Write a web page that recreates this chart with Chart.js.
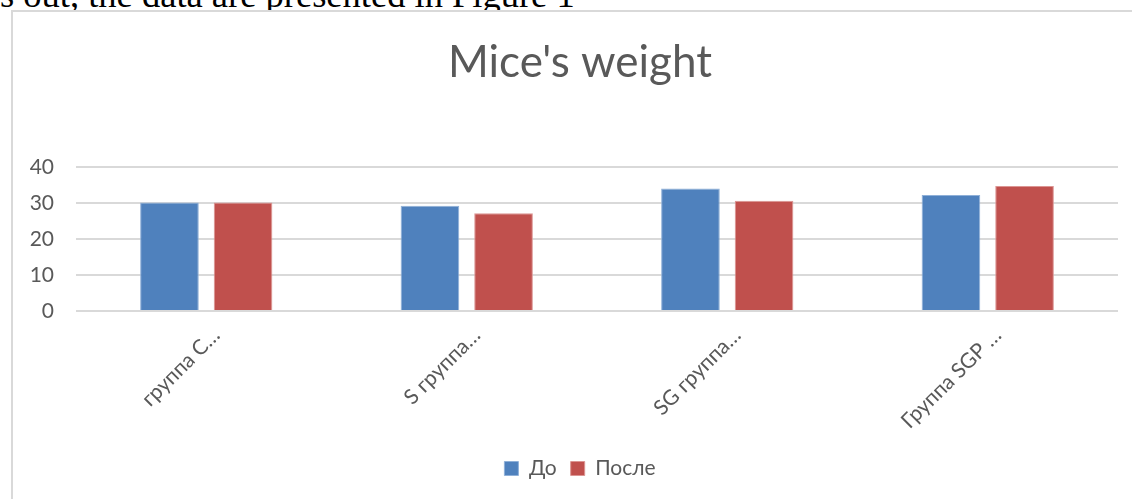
<!DOCTYPE html>
<html>
<head>
<meta charset="utf-8">
<script src="https://cdn.jsdelivr.net/npm/chart.js@4.4.1/dist/chart.umd.min.js"></script>
<style>
  html, body { margin: 0; padding: 0; background: #ffffff; overflow: hidden; width: 1132px; height: 499px; }
  #lead {
    position: absolute; left: 0px; top: -23px;
    font-family: "Liberation Serif", "Times New Roman", serif;
    font-size: 36.5px; color: #000; white-space: nowrap; line-height: 36px;
  }
  #frame {
    position: absolute; left: 11px; top: 10px; width: 1160px; height: 520px;
    border: 2px solid #d9d9d9; box-sizing: border-box; background: #fff;
  }
  #chart { position: absolute; left: 13px; top: 12px; }
</style>
</head>
<body>
<div id="lead">s out, the data are presented in Figure 1</div>
<div id="frame"></div>
<canvas id="chart" width="1134" height="487"></canvas>
<script>
// Mouse body weight per group, before and after
const categories = ['группа C…', 'S группа…', 'SG группа…', 'Группа SGP …'];
const seriesNames = ['До', 'После'];
const before = [30.1, 29.2, 34.0, 32.2];
const after = [30.1, 27.1, 30.6, 34.7];
const yTicks = [0, 10, 20, 30, 40];

const TEXT = '#595959';
const FONT = 'Lato, "Open Sans", sans-serif';

new Chart(document.getElementById('chart'), {
  type: 'bar',
  data: {
    labels: categories,
    datasets: [
      { label: seriesNames[0], data: before, backgroundColor: '#4f81bd', borderColor: '#8fb0d8', borderWidth: 1 },
      { label: seriesNames[1], data: after, backgroundColor: '#c0504d', borderColor: '#dc9593', borderWidth: 1 }
    ]
  },
  options: {
    responsive: false,
    animation: false,
    devicePixelRatio: 1,
    categoryPercentage: 0.565,
    barPercentage: 0.797,
    layout: { padding: { left: 0, right: 0, top: 0, bottom: 10 } },
    plugins: {
      tooltip: { enabled: false },
      title: {
        display: true,
        text: "Mice's weight",
        color: TEXT,
        font: { family: FONT, size: 44, weight: 'normal' },
        padding: { top: 24, bottom: 78 }
      },
      legend: {
        position: 'bottom',
        labels: {
          color: TEXT,
          font: { family: FONT, size: 21 },
          boxWidth: 14, boxHeight: 14, padding: 14
        }
      }
    },
    scales: {
      x: {
        grid: { display: false },
        border: { display: false },
        ticks: {
          color: TEXT,
          font: { family: FONT, size: 21 },
          minRotation: 45, maxRotation: 45,
          autoSkip: false,
          labelOffset: 10,
          padding: 4
        },
        afterFit: (s) => { s.height = 133; }
      },
      y: {
        min: 0, max: 40,
        afterBuildTicks: (s) => { s.ticks = yTicks.map(v => ({ value: v })); },
        grid: { color: '#d9d9d9', lineWidth: 2, drawTicks: false },
        border: { display: false },
        ticks: {
          color: TEXT,
          font: { family: FONT, size: 21 },
          padding: 22
        },
        afterFit: (s) => { s.width = 63; }
      },
      // empty right-hand margin axis, keeps the plot clear of the frame's right side
      yRight: {
        position: 'right',
        min: 0, max: 40,
        grid: { display: false, drawTicks: false },
        border: { display: false },
        ticks: { display: false },
        afterFit: (s) => { s.width = 29; }
      }
    }
  }
});
</script>
</body>
</html>
